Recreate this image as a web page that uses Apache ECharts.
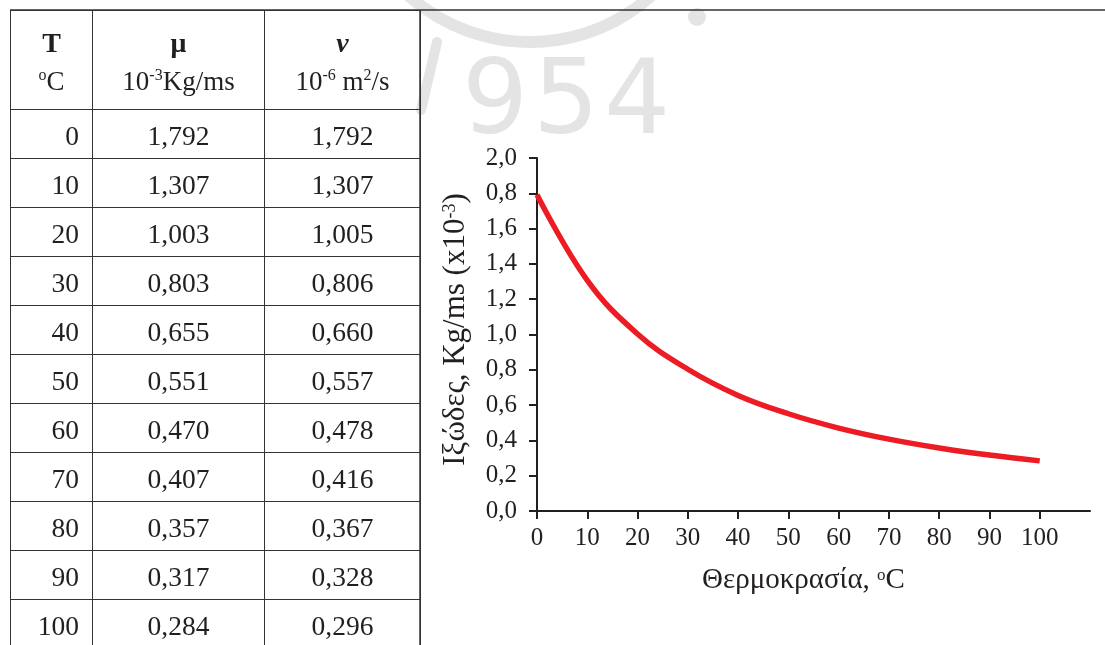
<!DOCTYPE html>
<html>
<head>
<meta charset="utf-8">
<script src="https://cdn.jsdelivr.net/npm/echarts@6/dist/echarts.min.js"></script>
<style>
  html, body { margin: 0; padding: 0; background: #fff; width: 1105px; height: 645px; overflow: hidden; }
  #chart { position: absolute; left: 0; top: 0; width: 1105px; height: 645px; }
  #tbl {
    position: absolute; left: 10px; top: 10px; z-index: 5;
    border-collapse: collapse; table-layout: fixed;
    font-family: "Liberation Serif", "DejaVu Serif", serif; color: #231f20;
  }
  #tbl td, #tbl th { border: 1.5px solid #333; padding: 0; }
  #tbl thead th { height: 91px; font-weight: normal; font-size: 27px; line-height: 38px; vertical-align: middle; padding-top: 7px; }
  #tbl thead th b { font-size: 28px; }
  #tbl tbody td { height: 44px; padding-top: 4px; font-size: 27.5px; text-align: center; vertical-align: middle; }
  #tbl tbody td.t { text-align: right; padding-right: 13px; }
  #tbl sup { font-size: 16px; vertical-align: 0; position: relative; top: -10px; }
</style>
</head>
<body>
<div id="chart"></div>
<table id="tbl">
  <colgroup><col style="width:82px"><col style="width:172px"><col style="width:156px"></colgroup>
  <thead><tr id="hdr"></tr></thead>
  <tbody id="tb"></tbody>
</table>
<script>
// ---- data ----
var temps = [0, 10, 20, 30, 40, 50, 60, 70, 80, 90, 100];
var mu = [1.792, 1.307, 1.003, 0.803, 0.655, 0.551, 0.470, 0.407, 0.357, 0.317, 0.284];
var nu = [1.792, 1.307, 1.005, 0.806, 0.660, 0.557, 0.478, 0.416, 0.367, 0.328, 0.296];
var yTickLabels = ['0,0', '0,2', '0,4', '0,6', '0,8', '1,0', '1,2', '1,4', '1,6', '0,8', '2,0'];
var headerSymbols = ['T', 'μ', 'ν'];
var headerUnits = ['<sup>o</sup>C', '10<sup>-3</sup>Kg/ms', '10<sup>-6</sup> m<sup>2</sup>/s'];
var xName = 'Θερμοκρασία, ';
var yName = 'Ιξώδες, Kg/ms (x10';
var watermarkGlyphs = ['9', '5', '4'];

// ---- table ----
function fmt(v) { return v.toFixed(3).replace('.', ','); }
var hdr = document.getElementById('hdr');
headerSymbols.forEach(function (s, i) {
  var th = document.createElement('th');
  var sym = i === 2 ? '<b><i>' + s + '</i></b>' : '<b>' + s + '</b>';
  th.innerHTML = sym + '<br>' + headerUnits[i];
  hdr.appendChild(th);
});
var tb = document.getElementById('tb');
temps.forEach(function (t, i) {
  var tr = document.createElement('tr');
  tr.innerHTML = '<td class="t">' + t + '</td><td>' + fmt(mu[i]) + '</td><td>' + fmt(nu[i]) + '</td>';
  tb.appendChild(tr);
});

// ---- chart ----
var ink = '#231f20';
var font = 'Liberation Serif';
var wm = '#e4e4e4';
var graphics = [
  { type: 'arc', z: 0, shape: { cx: 530, cy: -140, r: 182, startAngle: Math.PI * 0.2, endAngle: Math.PI * 0.8 },
    style: { stroke: wm, lineWidth: 12, fill: null } },
  { type: 'circle', z: 0, shape: { cx: 697, cy: 17, r: 9 }, style: { fill: wm } },
  { type: 'line', z: 0, shape: { x1: 437, y1: 42, x2: 421, y2: 110 }, style: { stroke: wm, lineWidth: 10, lineCap: 'round' } },
  { type: 'line', z: 1, shape: { x1: 10, y1: 10, x2: 1105, y2: 10 }, style: { stroke: '#333', lineWidth: 1.5 } },
  { type: 'line', z: 1, shape: { x1: 420, y1: 10, x2: 420, y2: 645 }, style: { stroke: '#333', lineWidth: 1.5 } }
];
watermarkGlyphs.forEach(function (g, i) {
  graphics.push({ type: 'text', z: 0, x: 462 + i * 71, y: 106,
    style: { text: g, fill: wm, font: '104px "DejaVu Sans"', verticalAlign: 'middle', align: 'left' } });
});

var chart = echarts.init(document.getElementById('chart'), null, { renderer: 'canvas' });
chart.setOption({
  animation: false,
  backgroundColor: '#fff',
  graphic: graphics,
  grid: { left: 537, top: 158, right: 15, bottom: 134, containLabel: false },
  xAxis: {
    type: 'value', min: 0, max: 110, interval: 10,
    axisLine: { show: true, lineStyle: { color: ink, width: 2 } },
    axisTick: { show: true, length: 8, lineStyle: { color: ink, width: 2 }, customValues: temps },
    axisLabel: { color: ink, fontFamily: font, fontSize: 25, margin: 15, customValues: temps },
    splitLine: { show: false },
    name: xName + '{sup|o}C',
    nameLocation: 'middle', nameGap: 55,
    nameTextStyle: { color: ink, fontFamily: font, fontSize: 29, padding: [0, 20, 0, 0],
      rich: { sup: { fontFamily: font, fontSize: 17, color: ink, verticalAlign: 'bottom', padding: [0, 0, 11, 0] } } }
  },
  yAxis: {
    type: 'value', min: 0, max: 2, interval: 0.2,
    axisLine: { show: true, lineStyle: { color: ink, width: 2 } },
    axisTick: { show: true, length: 8, lineStyle: { color: ink, width: 2 } },
    axisLabel: { color: ink, fontFamily: font, fontSize: 25, margin: 20,
      formatter: function (v) { return yTickLabels[Math.round(v / 0.2)]; } },
    splitLine: { show: false },
    name: yName + '{sup|-3})',
    nameLocation: 'middle', nameGap: 66,
    nameTextStyle: { color: ink, fontFamily: font, fontSize: 31, padding: [0, 0, 0, 10],
      rich: { sup: { fontFamily: font, fontSize: 18, color: ink, verticalAlign: 'bottom', padding: [0, 0, 12, 0] } } }
  },
  series: [{
    type: 'line',
    data: temps.map(function (t, i) { return [t, mu[i]]; }),
    smooth: 0.4,
    showSymbol: false,
    lineStyle: { color: '#ed1c24', width: 5.5, cap: 'butt' },
    z: 3
  }]
});
</script>
</body>
</html>
